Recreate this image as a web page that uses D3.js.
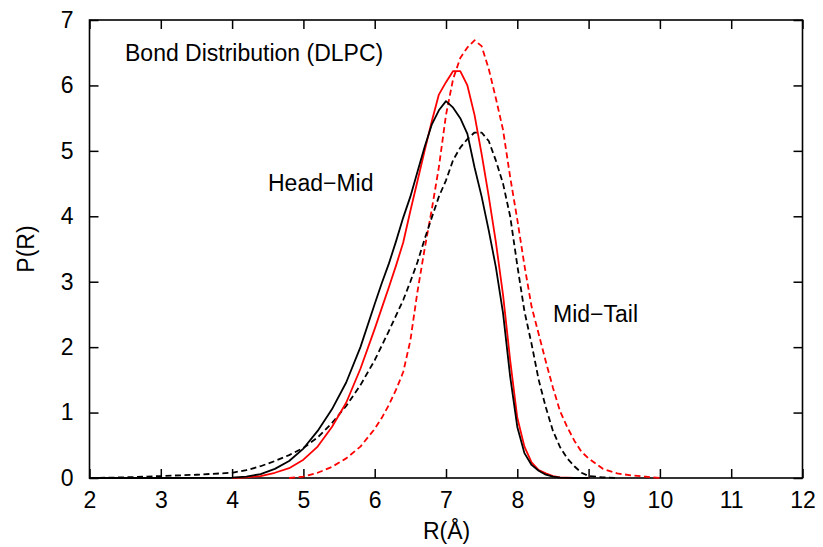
<!DOCTYPE html>
<meta charset="utf-8">
<style>
    body { margin: 0; background: #fff; }
    text { font-family: "Liberation Sans", Arial, sans-serif; font-size: 23px; fill: #000; }
    .curve { fill: none; stroke-width: 1.8px; stroke-linejoin: round; }
    .dashed { stroke-dasharray: 6, 3.5; }
</style>
<body>
<script src="https://d3js.org/d3.v7.min.js"></script>
<script>
    // R values (Angstrom) and P(R) for each curve
    var rHeadMidA = [2, 3, 4, 4.2, 4.4, 4.6, 4.8, 5, 5.2, 5.4, 5.6, 5.8, 6, 6.1, 6.2, 6.3, 6.4, 6.5, 6.6, 6.7, 6.8, 6.9, 7, 7.1, 7.2, 7.3, 7.4, 7.5, 7.6, 7.7, 7.8, 7.9, 8, 8.1, 8.2, 8.3, 8.4, 8.5, 8.6, 8.8, 9];
    var pHeadMidA = [0, 0, 0.005, 0.02, 0.06, 0.14, 0.26, 0.45, 0.72, 1.05, 1.46, 2.0, 2.66, 2.98, 3.28, 3.62, 3.98, 4.30, 4.68, 5.06, 5.40, 5.62, 5.76, 5.66, 5.50, 5.26, 4.75, 4.30, 3.78, 3.22, 2.52, 1.55, 0.78, 0.38, 0.20, 0.11, 0.05, 0.02, 0.005, 0, 0];

    var rHeadMidB = [4, 4.2, 4.4, 4.6, 4.8, 5, 5.2, 5.4, 5.6, 5.8, 6, 6.1, 6.2, 6.3, 6.4, 6.5, 6.6, 6.7, 6.8, 6.9, 7, 7.1, 7.2, 7.3, 7.4, 7.5, 7.6, 7.7, 7.8, 7.9, 8, 8.1, 8.2, 8.3, 8.4, 8.5, 8.6, 8.8, 9];
    var pHeadMidB = [0, 0.01, 0.03, 0.08, 0.15, 0.28, 0.48, 0.78, 1.15, 1.67, 2.28, 2.60, 2.92, 3.25, 3.60, 4.08, 4.54, 5.00, 5.45, 5.86, 6.05, 6.22, 6.22, 6.00, 5.55, 4.95, 4.30, 3.60, 2.80, 1.80, 0.92, 0.48, 0.24, 0.12, 0.07, 0.03, 0.01, 0, 0];

    var rMidTailA = [2, 2.5, 3, 3.5, 4, 4.2, 4.4, 4.6, 4.8, 5, 5.2, 5.4, 5.6, 5.8, 6, 6.2, 6.4, 6.5, 6.6, 6.7, 6.8, 6.9, 7, 7.1, 7.2, 7.3, 7.4, 7.5, 7.6, 7.7, 7.8, 7.9, 8, 8.1, 8.2, 8.3, 8.4, 8.5, 8.6, 8.7, 8.8, 8.9, 9, 9.2, 9.4];
    var pMidTailA = [0, 0.01, 0.03, 0.05, 0.08, 0.12, 0.18, 0.26, 0.35, 0.46, 0.62, 0.84, 1.10, 1.42, 1.80, 2.25, 2.72, 3.0, 3.30, 3.65, 3.98, 4.30, 4.55, 4.86, 5.05, 5.18, 5.28, 5.28, 5.15, 4.85, 4.50, 4.00, 3.25, 2.55, 2.05, 1.50, 1.08, 0.72, 0.47, 0.30, 0.18, 0.08, 0.03, 0.01, 0];

    var rMidTailB = [4.8, 5, 5.2, 5.4, 5.6, 5.8, 6, 6.1, 6.2, 6.3, 6.4, 6.5, 6.6, 6.7, 6.8, 6.9, 7, 7.1, 7.2, 7.3, 7.4, 7.5, 7.6, 7.7, 7.8, 7.9, 8, 8.1, 8.2, 8.3, 8.4, 8.5, 8.6, 8.7, 8.8, 8.9, 9, 9.2, 9.4, 9.6, 9.8, 10];
    var pMidTailB = [0, 0.02, 0.08, 0.17, 0.30, 0.48, 0.75, 0.92, 1.12, 1.35, 1.62, 2.10, 2.85, 3.50, 4.10, 4.75, 5.55, 6.10, 6.42, 6.58, 6.69, 6.60, 6.25, 5.80, 5.32, 4.60, 3.95, 3.25, 2.62, 2.20, 1.78, 1.38, 1.02, 0.78, 0.57, 0.40, 0.30, 0.14, 0.07, 0.04, 0.02, 0];

    var xTicks = [2, 3, 4, 5, 6, 7, 8, 9, 10, 11, 12];
    var yTicks = [0, 1, 2, 3, 4, 5, 6, 7];

    var width = 823, height = 547;
    var margin = { top: 20, left: 89.5 };
    var innerW = 802.5 - margin.left, innerH = 478 - margin.top;

    var svg = d3.select("body").append("svg")
        .attr("width", width)
        .attr("height", height);

    var g = svg.append("g")
        .attr("transform", "translate(" + margin.left + "," + margin.top + ")");

    var x = d3.scaleLinear().domain([2, 12]).range([0, innerW]);
    var y = d3.scaleLinear().domain([0, 7]).range([innerH, 0]);

    // inward ticks on all four sides, gnuplot style
    var tickLen = 9;
    g.append("g")
        .attr("transform", "translate(0," + innerH + ")")
        .call(d3.axisBottom(x).tickValues(xTicks).tickSize(-tickLen).tickPadding(14).tickFormat(d3.format("d")))
        .call(function(a) { a.select(".domain").remove(); });
    g.append("g")
        .call(d3.axisTop(x).tickValues(xTicks).tickSize(-tickLen).tickFormat(""))
        .call(function(a) { a.select(".domain").remove(); });
    g.append("g")
        .call(d3.axisLeft(y).tickValues(yTicks).tickSize(-tickLen).tickPadding(16).tickFormat(d3.format("d")))
        .call(function(a) { a.select(".domain").remove(); });
    g.append("g")
        .attr("transform", "translate(" + innerW + ",0)")
        .call(d3.axisRight(y).tickValues(yTicks).tickSize(-tickLen).tickFormat(""))
        .call(function(a) { a.select(".domain").remove(); });

    g.selectAll(".tick line").attr("stroke", "#000").attr("stroke-width", 1.5);
    g.selectAll(".tick text")
        .style("font-family", "'Liberation Sans', Arial, sans-serif")
        .style("font-size", "23px")
        .attr("fill", "#000");

    // frame
    g.append("rect")
        .attr("width", innerW)
        .attr("height", innerH)
        .attr("fill", "none")
        .attr("stroke", "#000")
        .attr("stroke-width", 1.6);

    var line = d3.line()
        .x(function(d) { return x(d[0]); })
        .y(function(d) { return y(d[1]); });

    var series = [
        { r: rMidTailB, p: pMidTailB, color: "#ff0000", dashed: true },
        { r: rMidTailA, p: pMidTailA, color: "#000000", dashed: true },
        { r: rHeadMidB, p: pHeadMidB, color: "#ff0000", dashed: false },
        { r: rHeadMidA, p: pHeadMidA, color: "#000000", dashed: false }
    ];

    g.selectAll(".curve")
        .data(series)
        .enter().append("path")
        .attr("class", function(d) { return "curve" + (d.dashed ? " dashed" : ""); })
        .attr("stroke", function(d) { return d.color; })
        .attr("d", function(d) { return line(d3.zip(d.r, d.p)); });

    // labels
    svg.append("text").attr("x", 125).attr("y", 61).text("Bond Distribution (DLPC)");
    svg.append("text").attr("x", 268).attr("y", 191).text("Head\u2212Mid");
    svg.append("text").attr("x", 553).attr("y", 322).text("Mid\u2212Tail");
    svg.append("text").attr("x", 423).attr("y", 539).text("R(\u00C5)");
    svg.append("text")
        .attr("transform", "translate(34,249) rotate(-90)")
        .attr("text-anchor", "middle")
        .text("P(R)");
</script>
</body>
